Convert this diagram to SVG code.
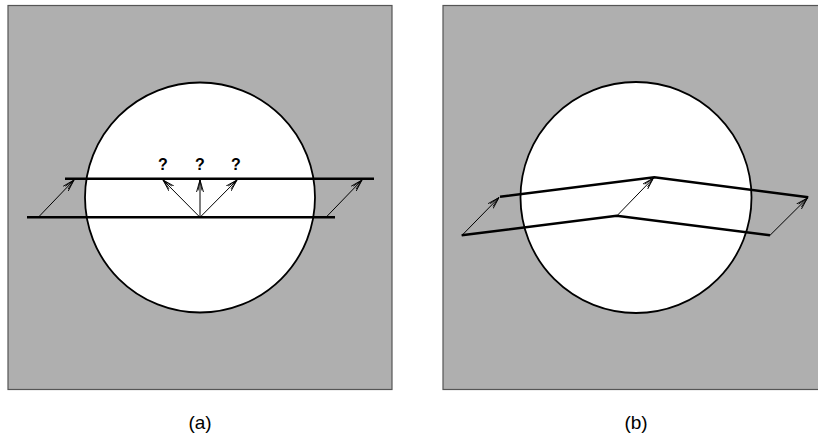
<svg xmlns="http://www.w3.org/2000/svg" width="818" height="436" viewBox="0 0 818 436">
<defs>
<marker id="ah" viewBox="0 0 12 8" refX="12" refY="4" markerWidth="12" markerHeight="8" markerUnits="userSpaceOnUse" orient="auto">
<path d="M0,0.5 L12,4 L0,7.5 M1.5,2 L12,4 L1.5,6" fill="none" stroke="#000" stroke-width="0.9"/>
</marker>
</defs>
<style>
.panel{fill:#afafaf;stroke:#555;stroke-width:1.2}
.disk{fill:#fff;stroke:#000;stroke-width:1.8}
.bar{fill:none;stroke:#000;stroke-width:2.6;stroke-linejoin:miter}
.arr{fill:none;stroke:#000;stroke-width:1;marker-end:url(#ah)}
.q{font-family:"Liberation Sans",Arial,sans-serif;font-weight:bold;font-size:16px;text-anchor:middle}
.cap{font-family:"Liberation Sans",Arial,sans-serif;font-size:19px;text-anchor:middle}
</style>
<g id="panel-a">
<rect class="panel" x="8" y="5.5" width="384" height="384"/>
<circle class="disk" cx="200" cy="197.5" r="115"/>
<line class="bar" x1="65" y1="178.7" x2="374" y2="178.7"/>
<line class="bar" x1="27" y1="217.3" x2="335" y2="217.3"/>
<text class="q" x="163" y="169.5">?</text>
<text class="q" x="200" y="169.5">?</text>
<text class="q" x="236" y="169.5">?</text>
<text class="cap" x="200" y="429">(a)</text>
</g>
<g id="panel-b">
<rect class="panel" x="443" y="5.5" width="376" height="384"/>
<circle class="disk" cx="636" cy="197.5" r="115.5"/>
<polyline class="bar" points="500,196.7 654.3,177.3 808.3,197.3"/>
<polyline class="bar" points="461.7,235.3 616.7,215.7 770,235.3"/>
<text class="cap" x="636" y="429">(b)</text>
</g>
<g id="connectors">
<line class="arr" x1="38.3" y1="217.3" x2="74" y2="180"/>
<line class="arr" x1="326" y1="217.3" x2="362" y2="180"/>
<line class="arr" x1="200" y1="217.3" x2="163" y2="180"/>
<line class="arr" x1="200" y1="217.3" x2="200" y2="180"/>
<line class="arr" x1="200" y1="217.3" x2="237" y2="180"/>
<line class="arr" x1="462" y1="235.3" x2="499" y2="197.5"/>
<line class="arr" x1="617" y1="215.7" x2="653.5" y2="178"/>
<line class="arr" x1="770" y1="235.3" x2="807.5" y2="198"/>
</g>
</svg>
